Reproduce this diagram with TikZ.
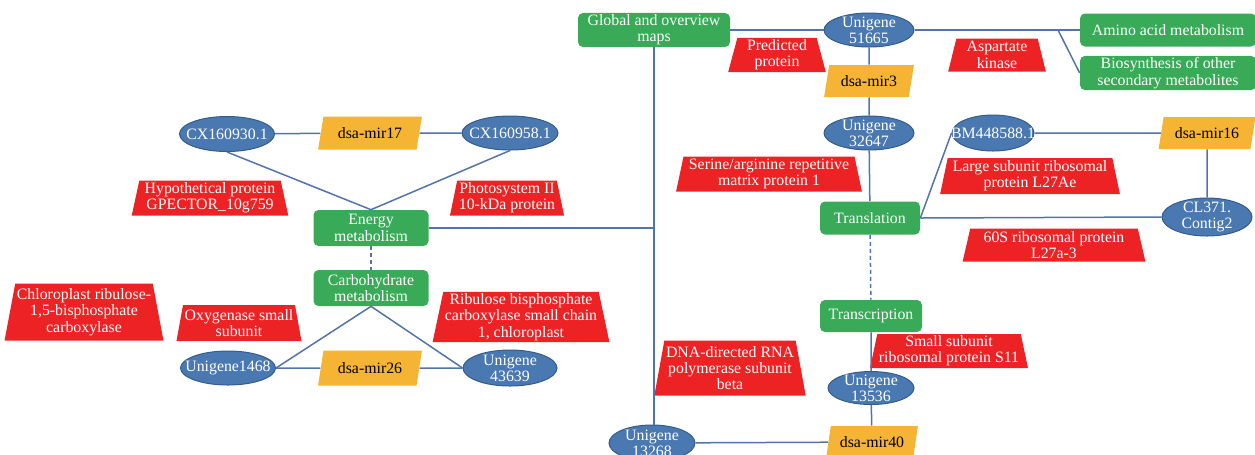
\documentclass[tikz,border=0pt]{standalone}
\usepackage{fontspec}
\setmainfont{Liberation Serif}
\usetikzlibrary{shapes.geometric}
\definecolor{gfill}{RGB}{56,170,88}
\definecolor{bfill}{RGB}{74,120,176}
\definecolor{bline}{RGB}{52,92,140}
\definecolor{ofill}{RGB}{245,180,52}
\definecolor{rfill}{RGB}{237,34,36}
\definecolor{linec}{RGB}{82,116,170}
\tikzset{
    txt/.style={font=\fontsize{9.5}{9.8}\selectfont,align=center},
    gbox/.style={txt,rectangle,rounded corners=3pt,fill=gfill,text=white,minimum width=69pt,minimum height=21pt,inner sep=1pt},
    ell/.style={ellipse,fill=bfill,draw=bline,line width=0.6pt,minimum width=54pt,minimum height=20.4pt,inner sep=0pt},
    ltxt/.style={txt,text=white,inner sep=0pt},
    obox/.style={txt,trapezium,trapezium left angle=75,trapezium right angle=105,trapezium stretches=true,fill=ofill,minimum width=60pt,minimum height=19.8pt,inner sep=1pt},
    rbox/.style={txt,trapezium,trapezium left angle=78,trapezium right angle=78,trapezium stretches=true,fill=rfill,text=white,inner xsep=1pt,inner ysep=1pt,minimum height=21pt},
    conn/.style={draw=linec,line width=0.9pt},
    dconn/.style={conn,dash pattern=on 2.4pt off 1.8pt}
}
\begin{document}
\begin{tikzpicture}[x=0.6pt,y=-0.6pt]
                \clip(0,0)rectangle(1255,454);
                \node[gbox,minimum width=91.2pt,minimum height=19.8pt](glob)at(654,30){Global and overview\\maps};
                \node[gbox,minimum width=105.6pt,minimum height=19.8pt](amino)at(1168,30){Amino acid metabolism};
                \node[gbox,minimum width=105.6pt,minimum height=20.4pt](biosyn)at(1168,73){Biosynthesis of other\\secondary metabolites};
                \node[gbox,minimum height=21.6pt](energy)at(371,228){Energy\\metabolism};
                \node[gbox,minimum height=21.6pt](carb)at(371,288){Carbohydrate\\metabolism};
                \node[gbox,minimum width=60pt,minimum height=19.8pt](transl)at(870,218){Translation};
                \node[gbox,minimum width=61.2pt,minimum height=19.2pt](transc)at(871,316){Transcription};
                \node[ell,label={[ltxt]center:Unigene\\51665}](u51665)at(869,30){};
                \node[ell,label={[ltxt]center:Unigene\\32647}](u32647)at(869,133){};
                \node[ell,minimum width=49.2pt,minimum height=21.6pt,label={[ltxt]center:BM448588.1}](bm)at(993,133){};
                \node[ell,minimum height=22.8pt,label={[ltxt]center:CL371.\\Contig2}](cl371)at(1207,217){};
                \node[ell,minimum width=51.6pt,minimum height=19.8pt,label={[ltxt]center:Unigene\\13536}](u13536)at(871,388){};
                \node[ell,minimum width=51.6pt,minimum height=21.6pt,label={[ltxt]center:Unigene\\13268}](u13268)at(652,443){};
                \node[ell,minimum width=57pt,minimum height=21pt,label={[ltxt]center:CX160930.1}](cx930)at(227,134){};
                \node[ell,minimum width=57.6pt,label={[ltxt]center:CX160958.1}](cx958)at(510,133){};
                \node[ell,minimum width=57pt,label={[ltxt]center:Unigene1468}](u1468)at(228,368){};
                \node[ell,minimum width=56.4pt,minimum height=21.6pt,label={[ltxt]center:Unigene\\43639}](u43639)at(510,368){};
                \node[obox,minimum width=54pt,minimum height=19.2pt](mir3)at(869,81){dsa-mir3};
                \node[obox,minimum width=58.2pt,minimum height=19.2pt](mir16)at(1207,133){dsa-mir16};
                \node[obox,minimum width=62.4pt](mir17)at(370,133){dsa-mir17};
                \node[obox,minimum width=62.4pt,minimum height=21pt](mir26)at(370,368){dsa-mir26};
                \node[obox,minimum width=55.2pt,minimum height=19.2pt](mir40)at(872,442){dsa-mir40};
                \node[rbox,minimum width=58.8pt,minimum height=19.8pt](pred)at(777,55){Predicted\\protein};
                \node[rbox,minimum width=58.8pt,minimum height=19.8pt](asp)at(997,55){Aspartate\\kinase};
                \node[rbox,minimum width=111.6pt](serine)at(769,174){Serine/arginine repetitive\\matrix protein 1};
                \node[rbox,minimum width=108pt,minimum height=21.6pt](large)at(1030,176){Large subunit ribosomal\\protein L27Ae};
                \node[rbox,minimum width=109.8pt,minimum height=19.8pt](s60)at(1054,245){60S ribosomal protein\\L27a-3};
                \node[rbox,minimum width=91.2pt,minimum height=19.2pt](small)at(949,351){Small subunit\\ribosomal protein S11};
                \node[rbox,minimum width=89.4pt,minimum height=33pt](dna)at(730,368){DNA-directed RNA\\polymerase subunit\\beta};
                \node[rbox,minimum width=94.2pt](hypo)at(210,198){Hypothetical protein\\GPECTOR\_10g759};
                \node[rbox,minimum width=61.8pt](photo)at(507,198){Photosystem II\\10-kDa protein};
                \node[rbox,minimum width=88pt,minimum height=34.2pt](chloro)at(84,312){Chloroplast ribulose-\\1,5-bisphosphate\\carboxylase};
                \node[rbox,minimum width=70.8pt,minimum height=21.6pt](oxy)at(239,323){Oxygenase small\\subunit};
                \node[rbox,minimum width=106.2pt,minimum height=28.8pt](ribu)at(521,317){Ribulose bisphosphate\\carboxylase small chain\\1, chloroplast};
                \coordinate(br)at(1058,30);
                \draw[conn](glob)--(u51665)--(amino);
                \draw[conn](br)--(biosyn.west);
                \draw[conn](glob.south)--(glob.south|-u13268.north);
                \draw[conn](energy.east)--(energy.east-|glob.south);
                \draw[conn](u51665)--(mir3)--(u32647)--(transl);
                \draw[conn](transl.east)--(bm.west);
                \draw[conn](transl.east)--(cl371.west);
                \draw[conn](bm)--(mir16);
                \draw[conn](mir16)--(cl371);
                \draw[dconn](transl)--(transc);
                \draw[conn](transc)--(u13536)--(mir40);
                \draw[conn](u13268)--(mir40);
                \draw[conn](cx930)--(mir17)--(cx958);
                \draw[conn](cx930.south)--(energy.north);
                \draw[conn](cx958.south)--(energy.north);
                \draw[dconn](energy)--(carb);
                \draw[conn](carb.south)--(u1468.east);
                \draw[conn](carb.south)--(u43639.west);
                \draw[conn](u1468)--(mir26)--(u43639);
            \end{tikzpicture}
\end{document}
